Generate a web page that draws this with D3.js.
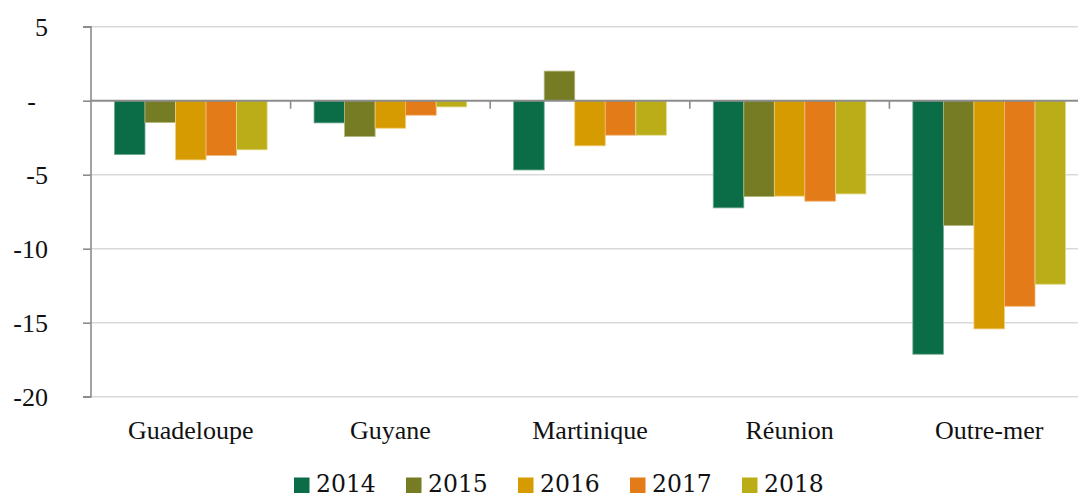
<!DOCTYPE html>
<html>
<head>
<meta charset="utf-8">
<script src="https://cdn.jsdelivr.net/npm/d3@7/dist/d3.min.js"></script>
<style>
  html, body { margin: 0; padding: 0; background: #fff; }
  svg { display: block; }
  text { font-family: "Liberation Serif", "DejaVu Serif", serif; fill: #111; }
</style>
</head>
<body>
<svg id="chart" width="1078" height="497"></svg>
<script>
// Territories and years
const categories = ["Guadeloupe", "Guyane", "Martinique", "Réunion", "Outre-mer"];
const years = ["2014", "2015", "2016", "2017", "2018"];

// One array per year, values in category order
const v2014 = [-3.64, -1.50, -4.68, -7.24, -17.13];
const v2015 = [-1.47, -2.42, 2.00, -6.48, -8.43];
const v2016 = [-4.00, -1.86, -3.05, -6.45, -15.42];
const v2017 = [-3.70, -0.98, -2.33, -6.79, -13.89];
const v2018 = [-3.32, -0.42, -2.33, -6.30, -12.40];
const seriesValues = [v2014, v2015, v2016, v2017, v2018];

const yTicks = [5, 0, -5, -10, -15, -20];
const colors = ["#0b6d47", "#757c24", "#d69b00", "#e27b18", "#bbad18"];
const strokes = ["#6fa98f", "#b3b67f", "#f0cf80", "#f2b57a", "#e3d98a"];

const svg = d3.select("#chart");
const plotLeft = 91, plotRight = 1089, plotTop = 26.7, plotBottom = 396.7;

const x = d3.scaleBand().domain(categories).range([plotLeft, plotRight]).paddingInner(0.235).paddingOuter(0.1175);
const xs = d3.scaleBand().domain(years).range([0, x.bandwidth()]);
const y = d3.scaleLinear().domain([-20, 5]).range([plotBottom, plotTop]);

// Horizontal gridlines
svg.append("g").selectAll("line").data(yTicks.filter(d => d !== 0)).join("line")
  .attr("x1", plotLeft).attr("x2", 1078)
  .attr("y1", d => y(d)).attr("y2", d => y(d))
  .attr("stroke", "#d9d9d9").attr("stroke-width", 1.5);

// Bars
const rows = [];
categories.forEach((c, i) => years.forEach((yr, j) => rows.push({ c, yr, j, v: seriesValues[j][i] })));
svg.append("g").selectAll("rect").data(rows).join("rect")
  .attr("x", d => x(d.c) + xs(d.yr))
  .attr("width", xs.bandwidth())
  .attr("y", d => y(Math.max(0, d.v)))
  .attr("height", d => Math.abs(y(d.v) - y(0)))
  .attr("fill", d => colors[d.j])
  .attr("stroke", d => strokes[d.j])
  .attr("stroke-width", 0.8);

// Y axis
const yAxis = d3.axisLeft(y).tickValues(yTicks).tickSize(8).tickPadding(35)
  .tickFormat(d => d === 0 ? "-" : d3.format("d")(d).replace("−", "-"));
const gy = svg.append("g").attr("transform", `translate(${plotLeft},0)`).call(yAxis);
gy.select(".domain").attr("stroke", "#8c8c8c").attr("stroke-width", 1.6).attr("d", `M-8,${plotTop}H0V${plotBottom}H-8`);
gy.selectAll(".tick line").attr("stroke", "#8c8c8c").attr("stroke-width", 1.6);
gy.selectAll(".tick text")
  .attr("font-family", "Liberation Serif, serif")
  .attr("font-size", 26).attr("fill", "#111")
  .attr("x", d => d === 0 ? -55 : -43);

// Zero baseline with category separators
const gx = svg.append("g").attr("transform", `translate(0,${y(0)})`);
gx.append("line").attr("x1", plotLeft).attr("x2", 1078).attr("stroke", "#8c8c8c").attr("stroke-width", 2);
const seps = categories.slice(1).map(c => x(c) - x.step() * x.paddingInner() / 2);
gx.selectAll("line.sep").data(seps).join("line").attr("class", "sep")
  .attr("x1", d => d).attr("x2", d => d).attr("y1", 0).attr("y2", 8)
  .attr("stroke", "#8c8c8c").attr("stroke-width", 1.6);

// Category labels
svg.append("g").selectAll("text").data(categories).join("text")
  .attr("x", d => x(d) + x.bandwidth() / 2)
  .attr("y", 439)
  .attr("text-anchor", "middle")
  .attr("font-size", 26)
  .text(d => d);

// Legend
const lg = svg.append("g").selectAll("g").data(years).join("g")
  .attr("transform", (d, i) => `translate(${294 + i * 112},0)`);
lg.append("rect").attr("x", 0).attr("y", 477.5).attr("width", 15.5).attr("height", 15.5)
  .attr("fill", (d, i) => colors[i]);
lg.append("text").attr("x", 22).attr("y", 492)
  .style("font-family", "'DejaVu Serif', serif").attr("font-size", 23.5)
  .text(d => d);
</script>
</body>
</html>
